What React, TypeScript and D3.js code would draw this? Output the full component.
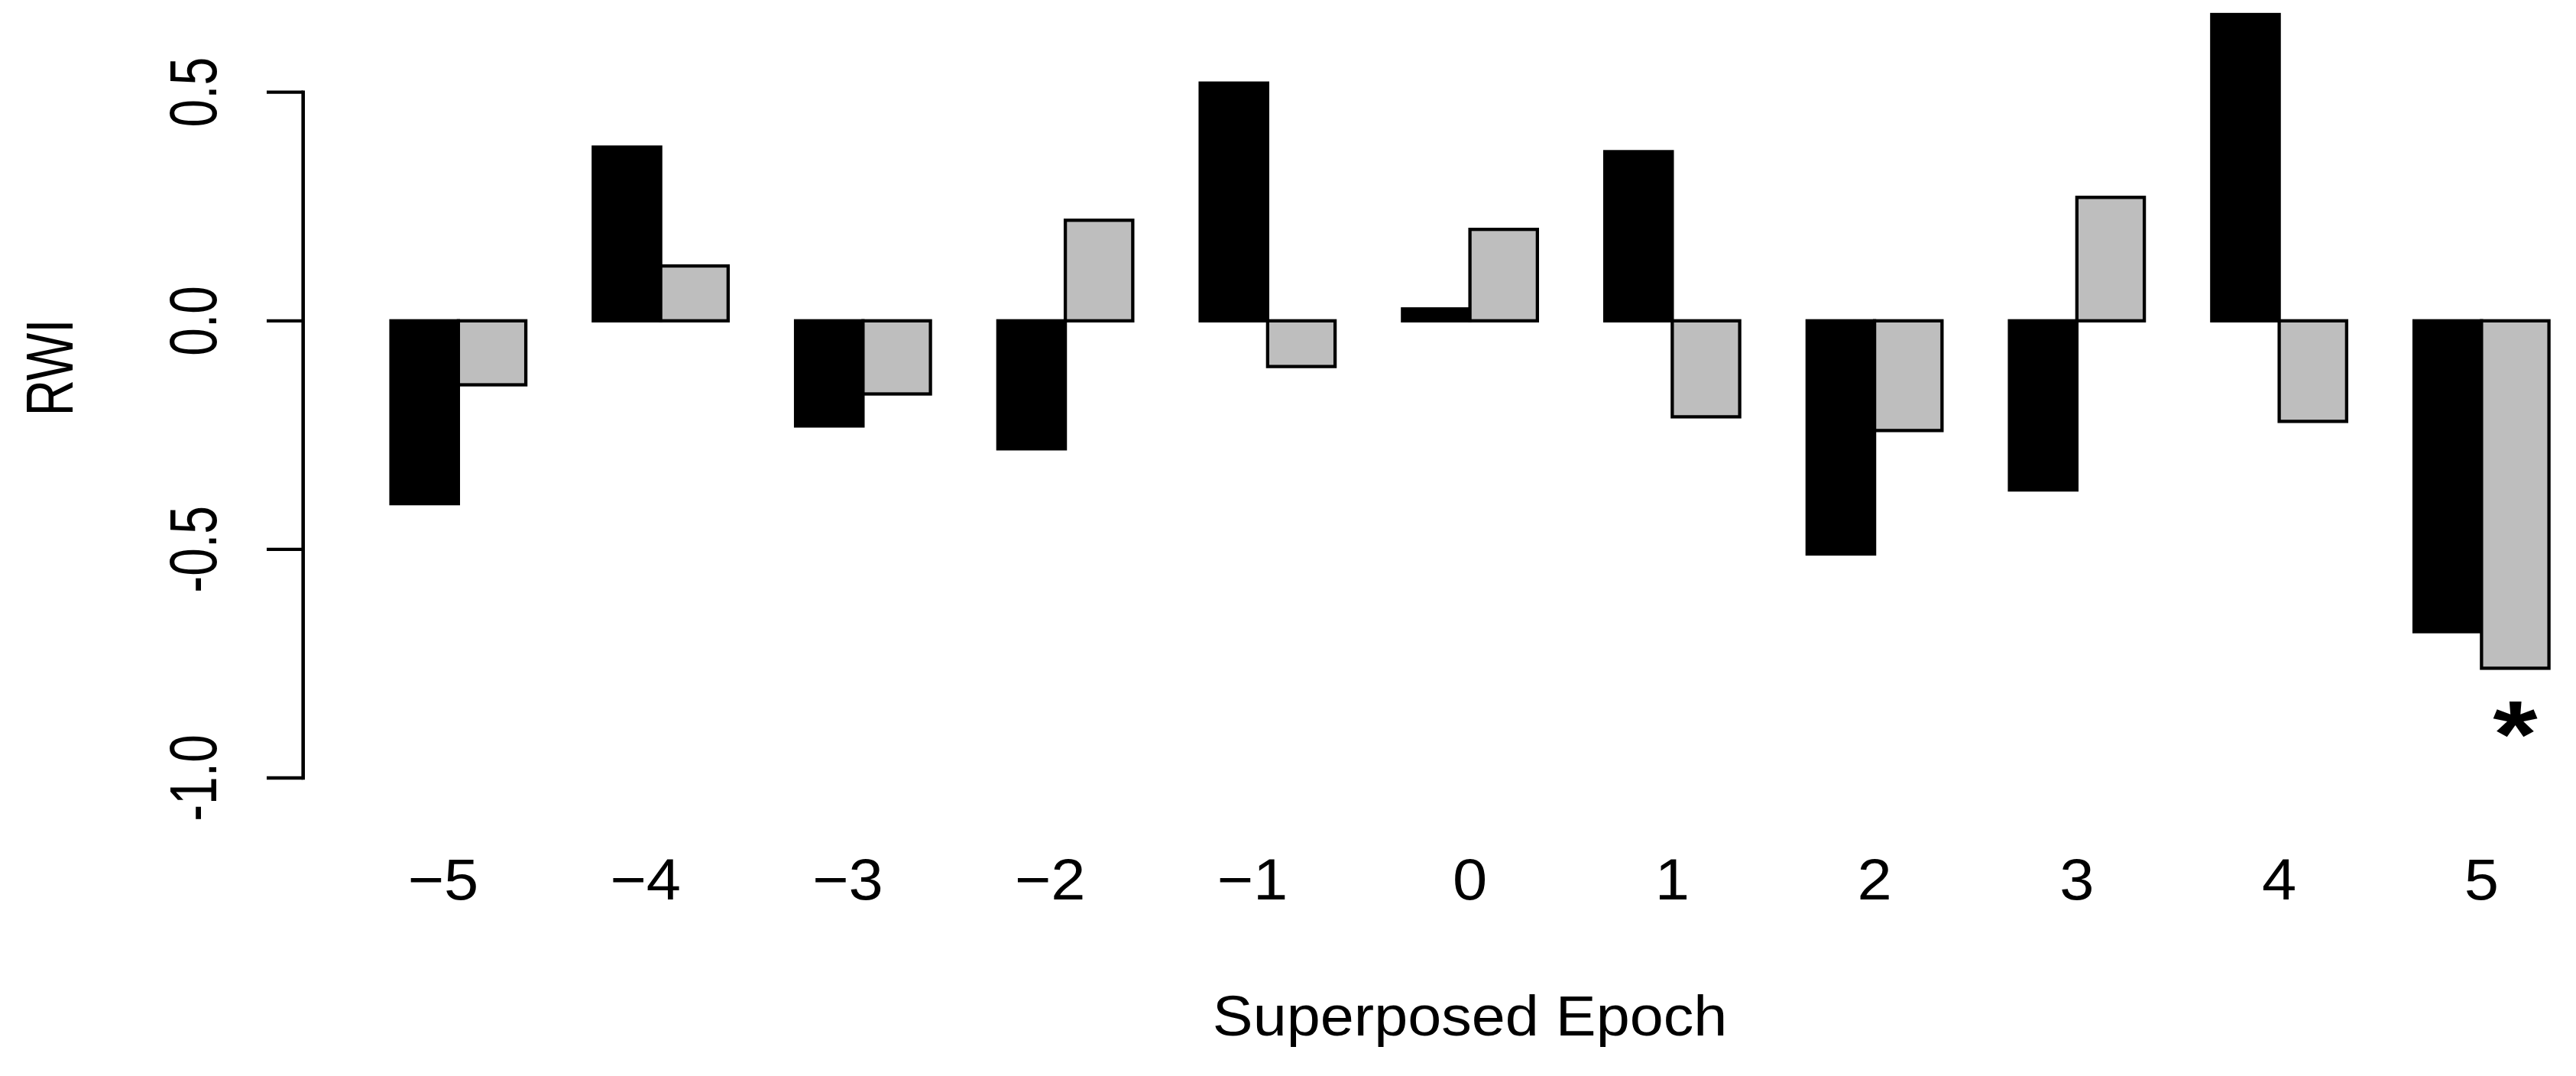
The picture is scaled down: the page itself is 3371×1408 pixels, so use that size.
import React from "react";
import * as d3 from "d3";

const epochs = ["−5", "−4", "−3", "−2", "−1", "0", "1", "2", "3", "4", "5"];
const blackValues = [-0.40, 0.38, -0.23, -0.28, 0.52, 0.026, 0.37, -0.51, -0.37, 0.67, -0.68];
const grayValues = [-0.14, 0.12, -0.16, 0.22, -0.10, 0.20, -0.21, -0.24, 0.27, -0.22, -0.76];
const yTicks = [-1.0, -0.5, 0.0, 0.5];
const yTickLabels = ["-1.0", "-0.5", "0.0", "0.5"];
const significance = [{ group: 10, series: "gray", label: "*" }];

const W = 3371;
const H = 1408;
const FONT = "'Liberation Sans', Arial, Helvetica, sans-serif";

export default function App() {
  // bar units: group i -> black [1+3i, 2+3i], gray [2+3i, 3+3i]
  const x = d3.scaleLinear().domain([1, 33]).range([511.6, 3335.6]);
  const y = d3.scaleLinear().domain([-1.0, 0.5]).range([1018, 120.7]);
  const axisX = 396.7;
  const sw = 4.3;

  const bars: { key: string; x0: number; x1: number; v: number; fill: string }[] = [];
  epochs.forEach((_, i) => {
    bars.push({ key: "b" + i, x0: x(1 + 3 * i), x1: x(2 + 3 * i), v: blackValues[i], fill: "#000000" });
    bars.push({ key: "g" + i, x0: x(2 + 3 * i), x1: x(3 + 3 * i), v: grayValues[i], fill: "#BEBEBE" });
  });

  return (
    <svg
      width={W}
      height={H}
      viewBox={`0 0 ${W} ${H}`}
      style={{ position: "absolute", left: 0, top: 0, display: "block", background: "#ffffff" }}
    >
      <rect x={0} y={0} width={W} height={H} fill="#ffffff" />
      {bars.map((b) => (
        <rect
          key={b.key}
          x={b.x0}
          width={b.x1 - b.x0}
          y={y(Math.max(0, b.v))}
          height={Math.abs(y(b.v) - y(0))}
          fill={b.fill}
          stroke="#000000"
          strokeWidth={sw}
        />
      ))}
      {/* y axis */}
      <line x1={axisX} x2={axisX} y1={y(0.5)} y2={y(-1.0)} stroke="#000" strokeWidth={4.6} strokeLinecap="square" />
      {yTicks.map((t, i) => (
        <g key={"yt" + i}>
          <line x1={349} x2={axisX} y1={y(t)} y2={y(t)} stroke="#000" strokeWidth={4.3} />
          <text
            transform={`translate(283,${y(t)}) scale(1.33,1) rotate(-90)`}
            textAnchor="middle"
            fontFamily={FONT}
            fontSize={66}
            fill="#000"
          >
            {yTickLabels[i]}
          </text>
        </g>
      ))}
      {/* x tick labels */}
      {epochs.map((e, i) => (
        <text
          key={"xl" + i}
          transform={`translate(${x(2 + 3 * i) + (e.startsWith("−") ? -20 : 0)},1177) scale(1.07,1)`}
          textAnchor="middle"
          fontFamily={FONT}
          fontSize={76}
          fill="#000"
        >
          {e}
        </text>
      ))}
      {/* axis titles */}
      <text
        transform={`translate(${x(17)},1355) scale(1.07,1)`}
        textAnchor="middle"
        fontFamily={FONT}
        fontSize={74}
        fill="#000"
      >
        Superposed Epoch
      </text>
      <text
        transform={`translate(95,481) scale(1.33,1) rotate(-90)`}
        textAnchor="middle"
        fontFamily={FONT}
        fontSize={66}
        fill="#000"
      >
        RWI
      </text>
      {significance.map((s, i) => {
        const u = s.series === "gray" ? 2.5 + 3 * s.group : 1.5 + 3 * s.group;
        return (
          <text
            key={"sig" + i}
            transform={`translate(${x(u)},1004) scale(1.2,1)`}
            textAnchor="middle"
            fontFamily={FONT}
            fontWeight="bold"
            fontSize={125}
            fill="#000"
          >
            {s.label}
          </text>
        );
      })}
    </svg>
  );
}
